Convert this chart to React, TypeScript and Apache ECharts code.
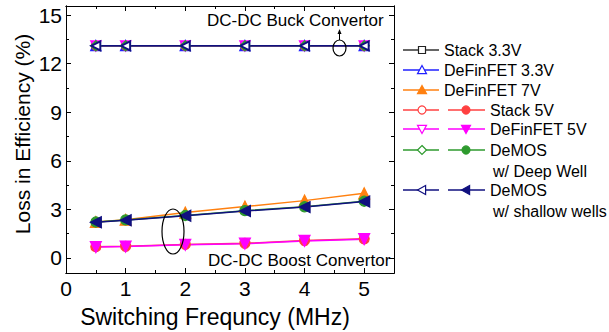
import React, { useEffect, useRef } from "react";
import * as echarts from "echarts";

const freq = [0.5, 1, 2, 3, 4, 5];
const xMajorTicks = [0, 1, 2, 3, 4, 5];
const xMinorTicks = [0.5, 1.5, 2.5, 3.5, 4.5];
const yMajorTicks = [0, 3, 6, 9, 12, 15];
const yMinorTicks = [1.5, 4.5, 7.5, 10.5, 13.5];

// Buck convertor (hollow markers)
const buckStack33 = [13.1, 13.1, 13.1, 13.1, 13.1, 13.1];
const buckDeFinFET33 = [13.1, 13.1, 13.1, 13.1, 13.1, 13.1];
const buckStack5 = [13.1, 13.1, 13.1, 13.1, 13.1, 13.1];
const buckDeFinFET5 = [13.1, 13.1, 13.1, 13.1, 13.1, 13.1];
const buckDeMOSDeep = [13.1, 13.1, 13.1, 13.1, 13.1, 13.1];
const buckDeMOSShallow = [13.1, 13.1, 13.1, 13.1, 13.1, 13.1];

// Boost convertor (filled markers)
const boostDeFinFET7 = [2.22, 2.36, 2.8, 3.17, 3.54, 3.99];
const boostStack5 = [0.69, 0.72, 0.83, 0.9, 1.07, 1.18];
const boostDeFinFET5 = [0.67, 0.7, 0.81, 0.88, 1.05, 1.16];
const boostDeMOSDeep = [2.22, 2.35, 2.62, 2.92, 3.16, 3.5];
const boostDeMOSShallow = [2.2, 2.33, 2.6, 2.9, 3.14, 3.48];

const FONT = "Liberation Sans, Arial, sans-serif";

const C = {
  black: "#222222",
  blue: "#2020ff",
  orange: "#ff8010",
  red: "#ff4040",
  pink: "#ff00ff",
  green: "#2e9a2e",
  navy: "#10107f",
};

const pair = (vals: number[]) => freq.map((f, i) => [f, vals[i]]);

function lineSeries(name: string, vals: number[], color: string, symbol: string, size: number, rotate = 0) {
  return {
    type: "line",
    name,
    data: pair(vals),
    xAxisIndex: 0,
    yAxisIndex: 0,
    symbol,
    symbolSize: size,
    symbolRotate: rotate,
    lineStyle: { color, width: 1.5 },
    itemStyle: { color, borderColor: color, borderWidth: 1.2 },
    emphasis: { disabled: true },
  };
}

function marker(kind: string, cx: number, cy: number, color: string, filled: boolean): any {
  const s = 9;
  const h = s / 2;
  const style = { fill: filled ? color : "#fff", stroke: color, lineWidth: 1.2 };
  switch (kind) {
    case "square":
      return { type: "rect", shape: { x: cx - 3.5, y: cy - 3.5, width: 7, height: 7 }, style };
    case "circle":
      return { type: "circle", shape: { cx, cy, r: 4 }, style };
    case "up":
      return { type: "polygon", shape: { points: [[cx, cy - h], [cx + h, cy + h * 0.8], [cx - h, cy + h * 0.8]] }, style };
    case "down":
      return { type: "polygon", shape: { points: [[cx, cy + h], [cx + h, cy - h * 0.8], [cx - h, cy - h * 0.8]] }, style };
    case "left":
      return { type: "polygon", shape: { points: [[cx - h, cy], [cx + h * 0.8, cy - h], [cx + h * 0.8, cy + h]] }, style };
    case "diamond":
      return { type: "polygon", shape: { points: [[cx, cy - h], [cx + h, cy], [cx, cy + h], [cx - h, cy]] }, style };
  }
  return null;
}

function legendLine(x1: number, x2: number, y: number, color: string) {
  return { type: "line", shape: { x1, y1: y, x2, y2: y }, style: { stroke: color, lineWidth: 1.5 } };
}

function legendText(x: number, y: number, text: string) {
  return {
    type: "text",
    x,
    y,
    style: { text, font: `16px ${FONT}`, fill: "#000", textVerticalAlign: "middle", verticalAlign: "middle" },
  };
}

export default function App() {
  const ref = useRef<HTMLDivElement>(null);
  useEffect(() => {
    if (!ref.current) return;
    const chart = echarts.init(ref.current, null, { renderer: "svg" });

    const legendRows: any[] = [];
    const rows = [
      { y: 50, color: C.black, hollow: "square", filled: null, text: "Stack 3.3V", lineColor: "#333" },
      { y: 70, color: C.blue, hollow: "up", filled: null, text: "DeFinFET 3.3V", lineColor: C.blue },
      { y: 90, color: C.orange, hollow: null, filled: "up", text: "DeFinFET 7V", lineColor: C.orange },
      { y: 110, color: C.red, hollow: "circle", filled: "circle", text: "Stack 5V", lineColor: C.red },
      { y: 129, color: C.pink, hollow: "down", filled: "down", text: "DeFinFET 5V", lineColor: C.pink },
      { y: 150, color: C.green, hollow: "diamond", filled: "circle", text: "DeMOS", lineColor: C.green },
      { y: 190, color: C.navy, hollow: "left", filled: "left", text: "DeMOS", lineColor: C.navy },
    ];
    rows.forEach((r) => {
      const single = r.hollow === null || r.filled === null;
      legendRows.push(legendLine(403, 439, r.y, r.lineColor));
      if (single) {
        legendRows.push(marker((r.hollow || r.filled) as string, 422, r.y, r.color, r.hollow === null));
        legendRows.push(legendText(444, r.y, r.text));
      } else {
        legendRows.push(marker(r.hollow as string, 422, r.y, r.color, false));
        legendRows.push(legendLine(448, 485, r.y, r.lineColor));
        legendRows.push(marker(r.filled as string, 466, r.y, r.color, true));
        legendRows.push(legendText(490, r.y, r.text));
      }
    });
    legendRows.push(legendText(493, 171, "w/ Deep Well"));
    legendRows.push(legendText(493, 211, "w/ shallow wells"));

    const gridLeft = 66, gridTop = 6, gridW = 328, gridH = 267;
    const yMin = -0.93, yMax = 15.56;

    const yAxisBase = (position: string, ticks: number[], len: number, labels: boolean) => ({
      type: "value",
      position,
      min: yMin,
      max: yMax,
      axisLine: { show: true, onZero: false, lineStyle: { color: "#000", width: 1 } },
      axisTick: { show: true, inside: true, length: len, customValues: ticks, lineStyle: { color: "#000", width: 1 } },
      axisLabel: labels
        ? { show: true, customValues: ticks, fontSize: 21, fontFamily: FONT, color: "#000", margin: 4 }
        : { show: false },
      splitLine: { show: false },
    });
    const xAxisBase = (position: string, ticks: number[], len: number, labels: boolean) => ({
      type: "value",
      position,
      min: 0,
      max: 5.5,
      axisLine: { show: true, onZero: false, lineStyle: { color: "#000", width: 1 } },
      axisTick: { show: true, inside: true, length: len, customValues: ticks, lineStyle: { color: "#000", width: 1 } },
      axisLabel: labels
        ? { show: true, customValues: ticks, fontSize: 21, fontFamily: FONT, color: "#000", margin: 5 }
        : { show: false },
      splitLine: { show: false },
    });

    chart.setOption({
      animation: false,
      backgroundColor: "#fff",
      grid: { left: gridLeft, top: gridTop, width: gridW, height: gridH, containLabel: false },
      xAxis: [
        xAxisBase("bottom", xMajorTicks, 5, true),
        xAxisBase("top", xMajorTicks, 5, false),
        xAxisBase("bottom", xMinorTicks, 3, false),
        xAxisBase("top", xMinorTicks, 3, false),
      ],
      yAxis: [
        yAxisBase("left", yMajorTicks, 5, true),
        yAxisBase("right", yMajorTicks, 5, false),
        yAxisBase("left", yMinorTicks, 3, false),
        yAxisBase("right", yMinorTicks, 3, false),
      ],
      series: [
        lineSeries("Stack 3.3V", buckStack33, C.black, "emptyRect", 7),
        lineSeries("DeFinFET 3.3V", buckDeFinFET33, C.blue, "emptyTriangle", 9),
        lineSeries("DeFinFET 7V", boostDeFinFET7, C.orange, "triangle", 11),
        lineSeries("Stack 5V", buckStack5, C.red, "emptyCircle", 8),
        lineSeries("Stack 5V filled", boostStack5, C.red, "circle", 10),
        lineSeries("DeFinFET 5V", buckDeFinFET5, C.pink, "emptyTriangle", 9, 180),
        lineSeries("DeFinFET 5V filled", boostDeFinFET5, C.pink, "triangle", 11, 180),
        lineSeries("DeMOS Deep", buckDeMOSDeep, C.green, "emptyDiamond", 9),
        lineSeries("DeMOS Deep filled", boostDeMOSDeep, C.green, "circle", 10),
        lineSeries("DeMOS Shallow", buckDeMOSShallow, C.navy, "emptyTriangle", 9, 90),
        lineSeries("DeMOS Shallow filled", boostDeMOSShallow, C.navy, "triangle", 11, 90),
      ],
      graphic: [
        {
          type: "text",
          x: 215,
          y: 317,
          style: {
            text: "Switching Frequncy (MHz)",
            font: `23px ${FONT}`,
            fill: "#000",
            align: "center",
            verticalAlign: "middle",
          },
        },
        {
          type: "text",
          x: 22,
          y: 134,
          rotation: Math.PI / 2,
          style: {
            text: "Loss in Efficiency (%)",
            font: `21px ${FONT}`,
            fill: "#000",
            align: "center",
            verticalAlign: "middle",
          },
        },
        {
          type: "text",
          x: 207,
          y: 20,
          style: { text: "DC-DC Buck Convertor", font: `17px ${FONT}`, fill: "#000", verticalAlign: "middle" },
        },
        {
          type: "text",
          x: 208,
          y: 260,
          style: { text: "DC-DC Boost Convertor", font: `17px ${FONT}`, fill: "#000", verticalAlign: "middle" },
        },
        { type: "ellipse", shape: { cx: 339.5, cy: 48, rx: 6.5, ry: 8 }, style: { fill: "none", stroke: "#000", lineWidth: 1.2 }, z: 10 },
        { type: "line", shape: { x1: 339.5, y1: 40, x2: 339.5, y2: 33 }, style: { stroke: "#000", lineWidth: 1 }, z: 10 },
        { type: "polygon", shape: { points: [[339.5, 29], [341.5, 34], [337.5, 34]] }, style: { fill: "#000" }, z: 10 },
        { type: "ellipse", shape: { cx: 173, cy: 231.5, rx: 11, ry: 22.5 }, style: { fill: "none", stroke: "#000", lineWidth: 1.2 }, z: 10 },
        ...legendRows,
      ],
    });
    return () => chart.dispose();
  }, []);
  return <div ref={ref} style={{ width: 609, height: 332, position: "absolute", left: 0, top: 0 }} />;
}
